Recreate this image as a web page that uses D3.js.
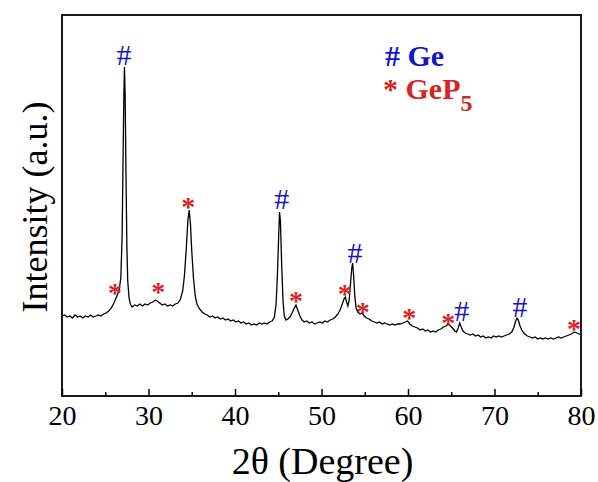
<!DOCTYPE html>
<html>
<head>
<meta charset="utf-8">
<script src="https://cdn.jsdelivr.net/npm/d3@7"></script>
<style>
  body { margin: 0; background: #fff; }
  svg text { font-family: "Liberation Serif", "Times New Roman", serif; }
</style>
</head>
<body>
<script>
// XRD pattern (2theta in degrees, intensity in a.u.)
let twoTheta = [
  20.0, 20.3, 20.6, 20.9, 21.2, 21.5, 21.8, 22.1, 22.4, 22.7, 23.0, 23.3, 23.6, 23.9, 24.2, 24.5, 24.8, 25.1, 25.4, 25.7,
  26.0, 26.2, 26.4, 26.6, 26.8, 26.95, 27.05, 27.15, 27.22, 27.3, 27.4, 27.5, 27.6, 27.75, 27.9, 28.1, 28.4, 28.7, 29.0, 29.3,
  29.6, 29.9, 30.2, 30.5, 30.8, 31.0, 31.3, 31.6, 31.9, 32.2, 32.5, 32.8, 33.1, 33.4, 33.7, 33.95, 34.15, 34.35, 34.55, 34.7,
  34.85, 35.0, 35.2, 35.4, 35.6, 35.9, 36.2, 36.5, 36.8, 37.1, 37.4, 37.7, 38.0, 38.3, 38.6, 38.9, 39.2, 39.5, 39.8, 40.1,
  40.4, 40.7, 41.0, 41.3, 41.6, 41.9, 42.2, 42.5, 42.8, 43.1, 43.4, 43.7, 44.0, 44.3, 44.55, 44.75, 44.9, 45.05, 45.15, 45.25,
  45.4, 45.55, 45.7, 45.9, 46.1, 46.35, 46.6, 46.85, 47.05, 47.25, 47.5, 47.75, 48.0, 48.3, 48.6, 48.9, 49.2, 49.5, 49.8, 50.1,
  50.4, 50.7, 51.0, 51.3, 51.6, 51.9, 52.15, 52.4, 52.6, 52.75, 52.9, 53.05, 53.2, 53.35, 53.5, 53.6, 53.7, 53.85, 54.0, 54.2,
  54.45, 54.7, 54.95, 55.2, 55.5, 55.8, 56.1, 56.4, 56.7, 57.0, 57.3, 57.6, 57.9, 58.2, 58.5, 58.8, 59.1, 59.4, 59.7, 59.95,
  60.2, 60.5, 60.8, 61.1, 61.4, 61.7, 62.0, 62.3, 62.6, 62.9, 63.2, 63.5, 63.8, 64.1, 64.4, 64.65, 64.9, 65.15, 65.4, 65.6,
  65.8, 65.98, 66.15, 66.35, 66.6, 66.9, 67.2, 67.5, 67.8, 68.1, 68.4, 68.7, 69.0, 69.3, 69.6, 69.9, 70.2, 70.5, 70.8, 71.1,
  71.4, 71.7, 72.0, 72.25, 72.45, 72.6, 72.75, 72.95, 73.2, 73.5, 73.8, 74.1, 74.4, 74.7, 75.0, 75.3, 75.6, 75.9, 76.2, 76.5,
  76.8, 77.1, 77.4, 77.7, 78.0, 78.3, 78.6, 78.9, 79.2, 79.5, 79.8, 80.0
];
let intensity = [
  80, 81, 79, 80, 78, 81, 79, 80, 78, 80, 79, 81, 79, 80, 81, 80, 82, 83, 85, 88,
  93, 97, 101, 106, 118, 160, 230, 300, 329, 300, 220, 150, 115, 98, 92, 89, 91, 90, 92, 90,
  92, 91, 93, 94, 96, 95, 93, 91, 92, 90, 91, 90, 92, 93, 97, 105, 120, 145, 175, 186,
  172, 145, 118, 100, 92, 87, 84, 82, 81, 79, 80, 78, 79, 77, 78, 76, 77, 75, 76, 74,
  75, 73, 74, 72, 73, 71, 72, 71, 73, 72, 73, 72, 74, 75, 79, 92, 120, 160, 184, 175,
  130, 95, 80, 76, 77, 79, 83, 88, 91, 86, 80, 76, 74, 75, 73, 74, 72, 73, 74, 73,
  75, 74, 76, 77, 79, 82, 86, 92, 97, 99, 94, 90, 96, 112, 128, 133, 122, 100, 88, 84,
  82, 83, 80, 78, 77, 75, 74, 73, 74, 72, 73, 72, 71, 72, 71, 72, 72, 73, 74, 75,
  72, 70, 69, 68, 66, 67, 65, 66, 64, 65, 64, 66, 67, 69, 70, 72, 70, 68, 65, 64,
  68, 73, 69, 65, 63, 62, 61, 62, 60, 61, 59, 60, 58, 59, 58, 60, 59, 60, 59, 60,
  61, 62, 64, 69, 75, 78, 76, 70, 65, 62, 60, 59, 58, 59, 57, 58, 57, 58, 57, 58,
  57, 58, 59, 58, 59, 60, 61, 62, 64, 63, 62, 61
];

// peak markers: position (deg) and height of the marker centre (a.u.)
let geAngles = [27.17, 45.4, 53.87, 66.2, 72.95];
let geHeights = [341, 197, 143, 85, 89];
let gep5Angles = [26.13, 31.13, 34.6, 47.05, 52.7, 54.76, 60.15, 64.66, 79.2];
let gep5Heights = [108, 109, 194, 100, 107, 89, 83, 78, 72];

let xTicks = [20, 30, 40, 50, 60, 70, 80];
let xMinorTicks = [25, 35, 45, 55, 65, 75];

let width = 598, height = 482;
let margin = { top: 15, right: 17, bottom: 86, left: 62 };
let blue = "#1414c8", red = "#d42424";

let svg = d3.select("body").append("svg")
    .attr("width", width)
    .attr("height", height);

let x = d3.scaleLinear()
    .domain([20, 80])
    .range([margin.left, width - margin.right]);

let y = d3.scaleLinear()
    .domain([0, 381])
    .range([height - margin.bottom, margin.top]);

let points = twoTheta.map((t, i) => [t, intensity[i]]);

let line = d3.line()
    .x(d => x(d[0]))
    .y(d => y(d[1]));

svg.append("path")
    .datum(points)
    .attr("fill", "none")
    .attr("stroke", "#000")
    .attr("stroke-width", 1.3)
    .attr("d", line);

// minor ticks
svg.append("g")
    .attr("transform", "translate(0," + (height - margin.bottom) + ")")
    .call(d3.axisBottom(x).tickValues(xMinorTicks).tickSize(-4).tickFormat(""))
    .call(g => g.select(".domain").remove())
    .selectAll("line").attr("stroke-width", 1.5);

// major ticks and labels
let xAxis = svg.append("g")
    .attr("transform", "translate(0," + (height - margin.bottom) + ")")
    .call(d3.axisBottom(x).tickValues(xTicks).tickSizeInner(-7).tickSizeOuter(0).tickPadding(14));
xAxis.select(".domain").remove();
xAxis.selectAll("line").attr("stroke-width", 1.5);
xAxis.selectAll("text")
    .attr("font-size", 28)
    .attr("fill", "#000")
    .attr("dy", "0.71em")
    .attr("y", 9);

// frame
svg.append("rect")
    .attr("x", margin.left)
    .attr("y", margin.top)
    .attr("width", width - margin.left - margin.right)
    .attr("height", height - margin.top - margin.bottom)
    .attr("fill", "none")
    .attr("stroke", "#000")
    .attr("stroke-width", 1.8);

// axis titles
svg.append("text")
    .attr("x", (margin.left + width - margin.right) / 2 + 1)
    .attr("y", 474)
    .attr("text-anchor", "middle")
    .attr("font-size", 38)
    .text("2θ (Degree)");

svg.append("text")
    .attr("transform", "translate(47," + 207 + ") rotate(-90)")
    .attr("text-anchor", "middle")
    .attr("font-size", 36)
    .text("Intensity (a.u.)");

// peak markers
let geFs = 30, starFs = 28;
svg.selectAll(".ge-mark")
    .data(geAngles)
    .enter()
    .append("text")
    .attr("class", "ge-mark")
    .attr("x", d => x(d))
    .attr("y", (d, i) => y(geHeights[i]) + geFs * 0.34)
    .attr("text-anchor", "middle")
    .attr("font-size", geFs)
    .attr("fill", blue)
    .text("#");

svg.selectAll(".gep5-mark")
    .data(gep5Angles)
    .enter()
    .append("text")
    .attr("class", "gep5-mark")
    .attr("x", d => x(d))
    .attr("y", (d, i) => y(gep5Heights[i]) + starFs * 0.5)
    .attr("text-anchor", "middle")
    .attr("font-size", starFs)
    .attr("font-weight", "bold")
    .attr("fill", red)
    .text("*");

// legend
let legend = svg.append("g").attr("font-weight", "bold");
legend.append("text")
    .attr("x", 385)
    .attr("y", 66)
    .attr("font-size", 30)
    .attr("fill", blue)
    .text("# Ge");

let gep = legend.append("text")
    .attr("x", 383)
    .attr("y", 99)
    .attr("font-size", 30)
    .attr("fill", red);
gep.append("tspan").text("* GeP");
gep.append("tspan")
    .attr("font-size", 24)
    .attr("dy", 12)
    .text("5");
</script>
</body>
</html>
